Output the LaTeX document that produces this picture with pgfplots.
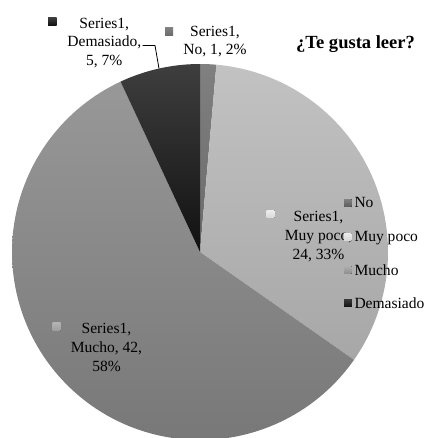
\documentclass[border=0pt]{standalone}
\usepackage{pgfplots}
\pgfplotsset{compat=1.18}
\usepackage{fontspec}
\setmainfont{Liberation Serif}
\definecolor{noT}{HTML}{808080}\definecolor{noB}{HTML}{6A6A6A}
\definecolor{mpT}{HTML}{C2C2C2}\definecolor{mpB}{HTML}{A7A7A7}
\definecolor{muT}{HTML}{989898}\definecolor{muB}{HTML}{787878}
\definecolor{deT}{HTML}{3E3E3E}\definecolor{deB}{HTML}{111111}
\newcommand{\lbl}{\fontsize{15.6}{19}\selectfont}
% values: No 1, Muy poco 24, Mucho 42, Demasiado 5
\pgfmathsetmacro{\tot}{1+24+42+5}
\pgfmathsetmacro{\aA}{360/\tot*1}
\pgfmathsetmacro{\aB}{360/\tot*(1+24)}
\pgfmathsetmacro{\aC}{360/\tot*(1+24+42)}
\def\cx{200}\def\cy{252}\def\r{188}
\begin{document}%
\begin{tikzpicture}
\begin{axis}[width=427bp, height=438bp, scale only axis,
  xmin=0, xmax=427, ymin=0, ymax=438, y dir=reverse,
  hide axis, clip=false]
\addplot[draw=none, top color=noT, bottom color=noB, domain=0:\aA, samples=6]
  ({\cx+\r*sin(x)},{\cy-\r*cos(x)}) -- (\cx,\cy) -- cycle;
\addplot[draw=none, top color=mpT, bottom color=mpB, domain=\aA:\aB, samples=80]
  ({\cx+\r*sin(x)},{\cy-\r*cos(x)}) -- (\cx,\cy) -- cycle;
\addplot[draw=none, top color=muT, bottom color=muB, domain=\aB:\aC, samples=120]
  ({\cx+\r*sin(x)},{\cy-\r*cos(x)}) -- (\cx,\cy) -- cycle;
\addplot[draw=none, top color=deT, bottom color=deB, domain=\aC:360, samples=20]
  ({\cx+\r*sin(x)},{\cy-\r*cos(x)}) -- (\cx,\cy) -- cycle;
% data labels
\fill[top color=deT, bottom color=deB] (axis cs:48,17.7) rectangle (axis cs:56.5,25.5);
\node[anchor=base, font=\lbl, inner sep=0pt] at (axis cs:104.3,28.5) {Series1,};
\node[anchor=base, font=\lbl, inner sep=0pt] at (axis cs:104.3,47) {Demasiado,};
\node[anchor=base, font=\lbl, inner sep=0pt] at (axis cs:104.3,66) {5, 7\%};
\draw[black, line width=0.8bp] (axis cs:142.5,45.5) -- (axis cs:155,45.5) -- (axis cs:159,68.5);
\fill[top color=noT, bottom color=noB] (axis cs:165,28) rectangle (axis cs:173,36);
\node[anchor=base, font=\lbl, inner sep=0pt] at (axis cs:215,36.5) {Series1,};
\node[anchor=base, font=\lbl, inner sep=0pt] at (axis cs:215,55) {No, 1, 2\%};
\fill[top color=black!7, bottom color=black!15] (axis cs:266.7,210) rectangle (axis cs:274.5,217.7);
\node[anchor=base, font=\lbl, inner sep=0pt] at (axis cs:318.5,221.7) {Series1,};
\node[anchor=base, font=\lbl, inner sep=0pt] at (axis cs:318.5,240.5) {Muy poco,};
\node[anchor=base, font=\lbl, inner sep=0pt] at (axis cs:318.5,259.5) {24, 33\%};
\fill[top color=black!30, bottom color=black!38] (axis cs:52.7,322.7) rectangle (axis cs:60.7,330.7);
\node[anchor=base, font=\lbl, inner sep=0pt] at (axis cs:106.5,333.3) {Series1,};
\node[anchor=base, font=\lbl, inner sep=0pt] at (axis cs:106.5,352.7) {Mucho, 42,};
\node[anchor=base, font=\lbl, inner sep=0pt] at (axis cs:106.5,371.7) {58\%};
% legend
\fill[top color=black!50, bottom color=black!64] (axis cs:344,199.3) rectangle (axis cs:351.6,206.9);
\node[anchor=base west, font=\lbl, inner sep=0pt] at (axis cs:354.3,207.3) {No};
\fill[top color=black!8, bottom color=black!16] (axis cs:344,233.2) rectangle (axis cs:351.6,240.8);
\node[anchor=base west, font=\lbl, inner sep=0pt] at (axis cs:354.3,241.4) {Muy poco};
\fill[top color=black!32, bottom color=black!45] (axis cs:344,266.3) rectangle (axis cs:351.6,273.9);
\node[anchor=base west, font=\lbl, inner sep=0pt] at (axis cs:354.3,275) {Mucho};
\fill[top color=black!78, bottom color=black!93] (axis cs:344,299.3) rectangle (axis cs:351.6,306.9);
\node[anchor=base west, font=\lbl, inner sep=0pt] at (axis cs:354.3,308.2) {Demasiado};
% title
\node[anchor=base west, inner sep=0pt, font=\fontsize{18.6}{22}\selectfont\bfseries] at (axis cs:296,48.3) {¿Te gusta leer?};
\end{axis}
\pgfresetboundingbox
\path[use as bounding box] (current axis.south west) rectangle (current axis.north east);
\end{tikzpicture}%
\end{document}
